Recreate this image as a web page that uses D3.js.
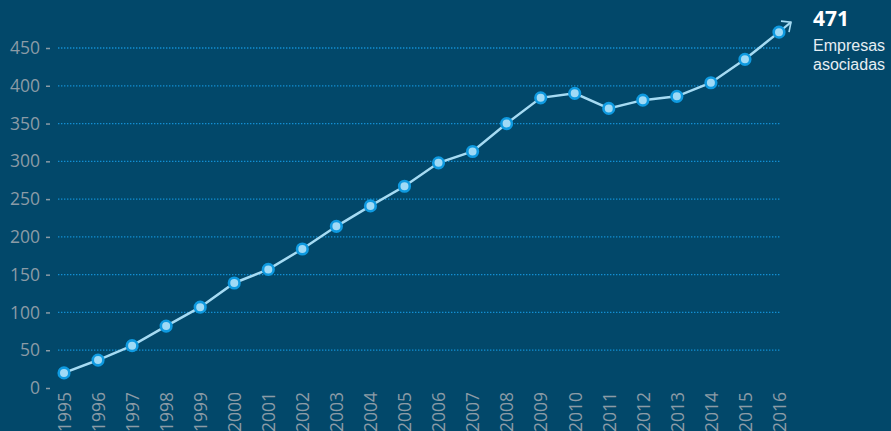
<!DOCTYPE html>
<html>
<head>
<meta charset="utf-8">
<script src="https://cdn.jsdelivr.net/npm/d3@7"></script>
<style>
  html, body { margin: 0; padding: 0; background: #02486a; }
  svg { display: block; }
</style>
</head>
<body>
<svg width="891" height="431"></svg>
<script>
const years = [1995, 1996, 1997, 1998, 1999, 2000, 2001, 2002, 2003, 2004, 2005,
    2006, 2007, 2008, 2009, 2010, 2011, 2012, 2013, 2014, 2015, 2016];
const empresas = [20, 37, 56, 82, 107, 139, 157, 184, 214, 241, 267,
    298, 313, 350, 384, 390, 370, 381, 386, 404, 435, 471];
const yTicks = [0, 50, 100, 150, 200, 250, 300, 350, 400, 450];
const lastLabel = "471";
const legendLines = ["Empresas", "asociadas"];

const $svg = d3.select("svg");
const font = "'Open Sans', 'DejaVu Sans', sans-serif";

const x = d3.scalePoint().domain(years).range([64, 779]);
const y = d3.scaleLinear().domain([0, 450]).range([388, 48]);

// dotted gridlines
$svg.append("g")
    .selectAll("line")
    .data(yTicks.filter(d => d > 0))
    .join("line")
    .attr("x1", 58).attr("x2", 780)
    .attr("y1", d => y(d)).attr("y2", d => y(d))
    .attr("stroke", "#138fd4")
    .attr("stroke-width", 1.3)
    .attr("stroke-dasharray", "1.4,1.6");

// y axis
const $yAxis = $svg.append("g")
    .attr("transform", "translate(50,0)")
    .call(d3.axisLeft(y).tickValues(yTicks).tickSize(4).tickPadding(6));
$yAxis.select(".domain").remove();
$yAxis.selectAll(".tick line").attr("stroke", "#8b9ba6").attr("stroke-width", 1.5);
$yAxis.selectAll("text")
    .attr("fill", "#8b9ba6")
    .style("font", `17.5px ${font}`);

// x axis labels, rotated to read upwards
const $xAxis = $svg.append("g")
    .attr("transform", "translate(0,392)")
    .call(d3.axisBottom(x).tickSize(0).tickPadding(0));
$xAxis.select(".domain").remove();
$xAxis.selectAll(".tick text")
    .attr("fill", "#8b9ba6")
    .style("font", `17.5px ${font}`)
    .attr("transform", "rotate(-90)")
    .attr("text-anchor", "end")
    .attr("x", 0)
    .attr("y", 0)
    .attr("dy", "0.36em");

// line
const line = d3.line().x((d, i) => x(years[i])).y(d => y(d));
$svg.append("path")
    .datum(empresas)
    .attr("d", line)
    .attr("fill", "none")
    .attr("stroke", "#a6dbf3")
    .attr("stroke-width", 2.5);

// arrow off the last point
const n = empresas.length;
const x0 = x(years[n - 1]), y0 = y(empresas[n - 1]);
const ax = x0 + 12, ay = y0 - 10;
$svg.append("line")
    .attr("x1", x0).attr("y1", y0).attr("x2", ax).attr("y2", ay)
    .attr("stroke", "#a6dbf3").attr("stroke-width", 2);
$svg.append("path")
    .attr("d", `M${ax - 10},${ay - 1} L${ax},${ay} L${ax - 2},${ay + 10}`)
    .attr("fill", "none")
    .attr("stroke", "#a6dbf3")
    .attr("stroke-width", 1.6);

// points
$svg.append("g")
    .selectAll("circle")
    .data(empresas)
    .join("circle")
    .attr("cx", (d, i) => x(years[i]))
    .attr("cy", d => y(d))
    .attr("r", 5.3)
    .attr("fill", "#9fdaf6")
    .attr("stroke", "#0f9ae0")
    .attr("stroke-width", 2.6);

// annotation
$svg.append("text")
    .attr("x", 813).attr("y", 26)
    .attr("fill", "#ffffff")
    .style("font", `bold 21px ${font}`)
    .text(lastLabel);
$svg.append("g")
    .selectAll("text")
    .data(legendLines)
    .join("text")
    .attr("x", 813)
    .attr("y", (d, i) => 51 + i * 18.5)
    .attr("fill", "#e6eef3")
    .style("font", "16px 'Liberation Sans', Arial, sans-serif")
    .text(d => d);
</script>
</body>
</html>
